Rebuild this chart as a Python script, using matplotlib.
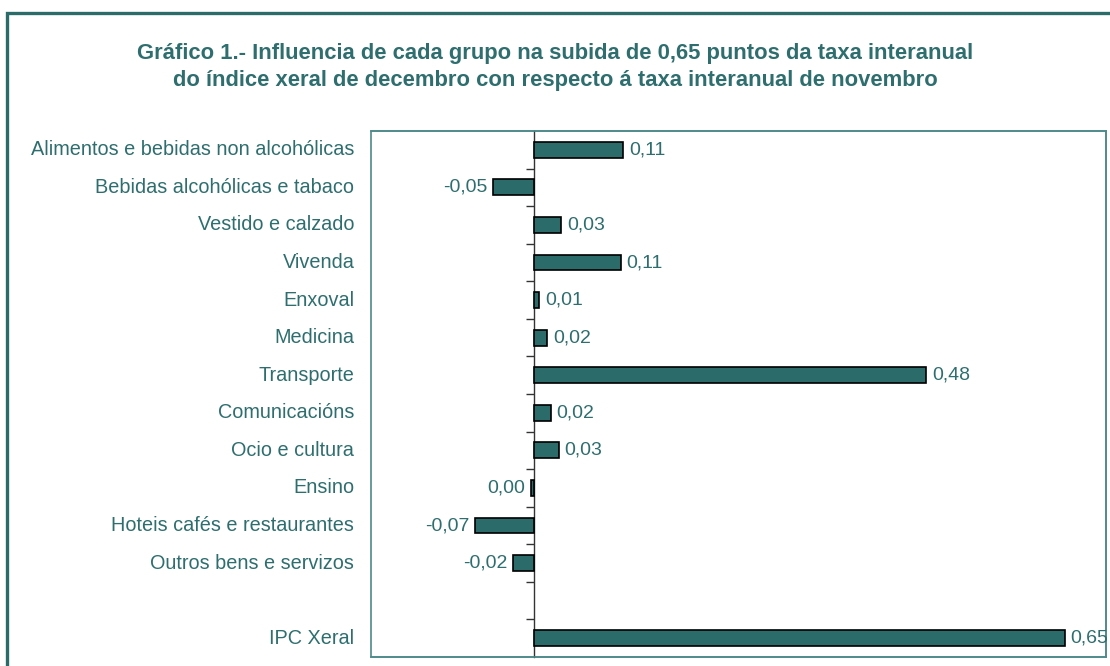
import matplotlib.pyplot as plt
from matplotlib.patches import Rectangle

categorias = ["Alimentos e bebidas non alcohólicas", "Bebidas alcohólicas e tabaco",
              "Vestido e calzado", "Vivenda", "Enxoval", "Medicina", "Transporte",
              "Comunicacións", "Ocio e cultura", "Ensino", "Hoteis cafés e restaurantes",
              "Outros bens e servizos", "", "IPC Xeral"]
valores = [0.109, -0.051, 0.033, 0.106, 0.006, 0.016, 0.480,
           0.020, 0.030, -0.004, -0.073, -0.026, None, 0.650]
etiquetas = ["0,11", "-0,05", "0,03", "0,11", "0,01", "0,02", "0,48",
             "0,02", "0,03", "0,00", "-0,07", "-0,02", "", "0,65"]

teal = "#2b6b6a"
texto = "#2e6e6e"
plt.rcParams["font.family"] = ["Liberation Sans", "DejaVu Sans"]

fig = plt.figure(figsize=(11.1, 6.66), dpi=100)
ax = fig.add_axes([0.3342, 0.0135, 0.6622, 0.7898])

pos = list(range(len(categorias)))
for i, (v, lab) in enumerate(zip(valores, etiquetas)):
    if v is None:
        continue
    ax.barh(i, v, height=0.42, color=teal, edgecolor="black", linewidth=1.2, zorder=3)
    if v >= 0:
        ax.annotate(lab, (v, i), xytext=(4, 0), textcoords="offset points",
                    ha="left", va="center", fontsize=14, color=texto, zorder=4)
    else:
        ax.annotate(lab, (v, i), xytext=(-4, 0), textcoords="offset points",
                    ha="right", va="center", fontsize=14, color=texto, zorder=4)

ax.set_xlim(-0.2, 0.7)
ax.set_ylim(len(categorias) - 0.5, -0.5)

# eixo vertical no cero con marcas entre categorías
ax.spines["left"].set_position(("data", 0))
ax.spines["left"].set_color("#333333")
ax.spines["left"].set_linewidth(1.0)
ax.set_yticks([p + 0.5 for p in pos[:-1]])
ax.set_yticklabels([])
ax.tick_params(axis="y", direction="out", length=6, width=1, color="#333333")
ax.set_xticks([])
for s in ["top", "right", "bottom"]:
    ax.spines[s].set_color("#4f8a8a")
    ax.spines[s].set_linewidth(1.2)

# marco esquerdo da área do gráfico
ax.add_patch(Rectangle((0, 0), 1, 1, transform=ax.transAxes, fill=False,
                       edgecolor="#4f8a8a", linewidth=1.2, zorder=1, clip_on=False))

for i, c in enumerate(categorias):
    if c:
        ax.annotate(c, (-0.2, i), xytext=(-12, 0), textcoords="offset points",
                    ha="right", va="center", fontsize=14.3, color=texto,
                    annotation_clip=False)

fig.text(0.5, 0.899, "Gráfico 1.- Influencia de cada grupo na subida de 0,65 puntos da taxa interanual\n"
         "do índice xeral de decembro con respecto á taxa interanual de novembro",
         ha="center", va="center", fontsize=15.8, fontweight="bold", color=texto,
         linespacing=1.36)

fig.patches.append(Rectangle((0.0063, -0.05), 1.05, 1.0305, transform=fig.transFigure,
                             fill=False, edgecolor=teal, linewidth=2.4))

fig.savefig("out.png", dpi=100)
